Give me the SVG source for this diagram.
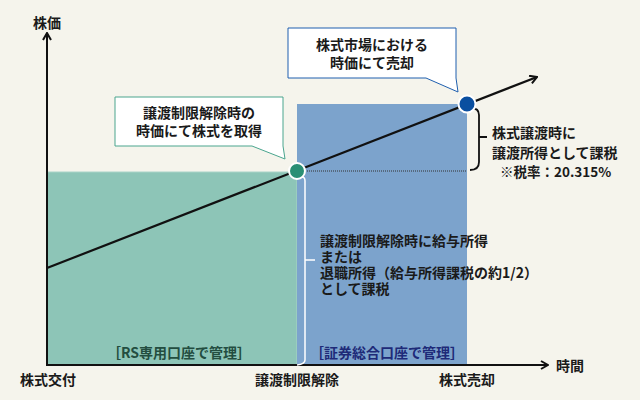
<svg xmlns="http://www.w3.org/2000/svg" width="640" height="400" viewBox="0 0 640 400">
<defs>
<style>
.t{font-family:"Noto Sans CJK JP","Noto Sans",sans-serif;font-weight:700;font-size:14px;fill:#1a1a1a}
.c{text-anchor:middle}
.ax{stroke:#111;stroke-width:2;fill:none}
</style>
<marker id="arr" viewBox="0 0 10 10" refX="9" refY="5" markerWidth="10" markerHeight="10" markerUnits="userSpaceOnUse" orient="auto">
<polyline points="2,1 9,5 2,9" fill="none" stroke="#111" stroke-width="2"/>
</marker>
</defs>
<rect width="640" height="400" fill="#f5f4ec"/>
<g id="rs-area">
<rect x="47" y="172" width="250" height="193" fill="#8dc5b7" stroke="#a9d4c7" stroke-width="1"/>
<text class="t c" x="179" y="358" style="fill:#234d40">［RS専用口座で管理］</text>
</g>
<g id="securities-area">
<rect x="297" y="104" width="170" height="261" fill="#7ca3cc"/>
<text class="t c" x="387" y="358" style="fill:#1e2a78">［証券総合口座で管理］</text>
</g>
<g id="connectors">
<line class="ax" x1="47" y1="365" x2="47" y2="33" marker-end="url(#arr)"/>
<line class="ax" x1="46" y1="365" x2="548" y2="365" marker-end="url(#arr)"/>
<line x1="47" y1="268" x2="537" y2="77" stroke="#111" stroke-width="2.2" marker-end="url(#arr)"/>
<line x1="305" y1="171" x2="467" y2="171" stroke="#333" stroke-width="1" stroke-dasharray="1,1"/>
<path d="M302,177 Q305,177 305,181 V360 Q305,364 297,365 M305,260 H315" fill="none" stroke="#fff" stroke-width="1.5"/>
<path d="M471,108 Q479,108 479,115 V162 Q479,170 470,170 M479,137 H487" fill="none" stroke="#111" stroke-width="1.8"/>
</g>
<g id="point-release">
<circle cx="297" cy="171" r="8" fill="#2a8f74" stroke="#fff" stroke-width="2"/>
</g>
<g id="point-sale">
<circle cx="467" cy="104" r="8.5" fill="#0a4fa0" stroke="#fff" stroke-width="2"/>
</g>
<g id="callout-release">
<path d="M115,97 H283 V146 L285,159 L252,146 H115 Z" fill="#fff" stroke="#4aa58e" stroke-width="1"/>
<text class="t c" x="199" y="118">譲渡制限解除時の</text>
<text class="t c" x="199" y="136">時価にて株式を取得</text>
</g>
<g id="callout-sale">
<path d="M288,28 H456 V78 L458,92 L426,78 H288 Z" fill="#fff" stroke="#1f5fae" stroke-width="1"/>
<text class="t c" x="372" y="50">株式市場における</text>
<text class="t c" x="372" y="68">時価にて売却</text>
</g>
<g id="label-tax-sale">
<text class="t" x="492" y="138">株式譲渡時に</text>
<text class="t" x="492" y="158">譲渡所得として課税</text>
<text class="t" x="500" y="177" style="font-size:13.5px">※税率：20.315%</text>
</g>
<g id="label-tax-release">
<text class="t" x="320" y="246">譲渡制限解除時に給与所得</text>
<text class="t" x="320" y="262">または</text>
<text class="t" x="320" y="278">退職所得（給与所得課税の約1/2）</text>
<text class="t" x="320" y="294">として課税</text>
</g>
<g id="axis-labels">
<text class="t c" x="47" y="28">株価</text>
<text class="t c" x="570" y="371">時間</text>
<text class="t c" x="48" y="385">株式交付</text>
<text class="t c" x="297" y="385">譲渡制限解除</text>
<text class="t c" x="467" y="385">株式売却</text>
</g>
</svg>
